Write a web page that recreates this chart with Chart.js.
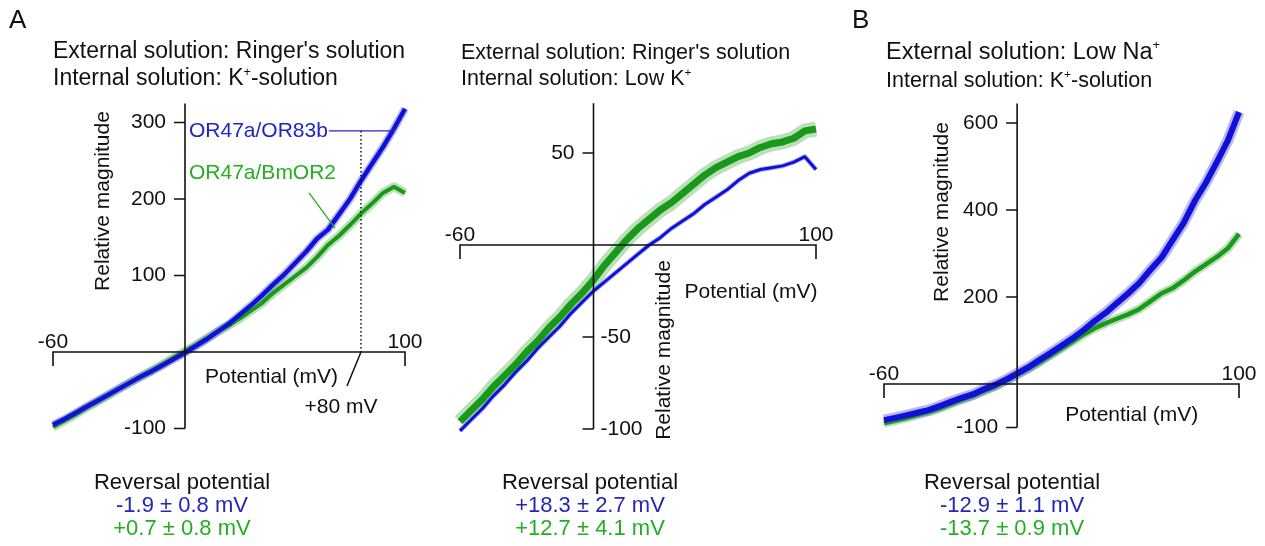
<!DOCTYPE html>
<html>
<head>
<meta charset="utf-8">
<script src="https://cdn.jsdelivr.net/npm/chart.js@4.4.1/dist/chart.umd.min.js"></script>
<style>
  body { margin: 0; width: 1265px; height: 546px; background: #fff; position: relative; overflow: hidden;
         font-family: "Liberation Sans", Arial, sans-serif; color: #111; }
  canvas { position: absolute; top: 0; }
  .t { position: absolute; white-space: nowrap; z-index: 2; }
  .c { text-align: center; transform: translateX(-50%); }
  sup { font-size: 0.55em; vertical-align: 0.75em; line-height: 0; }
  .blue { color: #2626b4; }
  .green { color: #22b022; }
</style>
</head>
<body>
<div class="t" style="left:9px;top:4px;font-size:26px;line-height:30px">A</div>
<div class="t" style="left:852px;top:4px;font-size:26px;line-height:30px">B</div>

<div class="t" style="left:53px;top:36.5px;font-size:23px;line-height:27px">External solution: Ringer's solution<br>Internal solution: K<sup>+</sup>-solution</div>
<div class="t" style="left:461px;top:38.5px;font-size:21.5px;line-height:26px">External solution: Ringer's solution<br>Internal solution: Low K<sup>+</sup></div>
<div class="t" style="left:886px;top:38px;font-size:23.5px;line-height:26px">External solution: Low Na<sup>+</sup></div>
<div class="t" style="left:886px;top:66.5px;font-size:21.5px;line-height:26px">Internal solution: K<sup>+</sup>-solution</div>

<div class="t c" style="left:182px;top:470px;font-size:22px;line-height:23px">Reversal potential<br><span class="blue">-1.9 ± 0.8 mV</span><br><span class="green">+0.7 ± 0.8 mV</span></div>
<div class="t c" style="left:590px;top:470px;font-size:22px;line-height:23px">Reversal potential<br><span class="blue">+18.3 ± 2.7 mV</span><br><span class="green">+12.7 ± 4.1 mV</span></div>
<div class="t c" style="left:1012px;top:470px;font-size:22px;line-height:23px">Reversal potential<br><span class="blue">-12.9 ± 1.1 mV</span><br><span class="green">-13.7 ± 0.9 mV</span></div>

<canvas id="chartA1" width="440" height="546" style="left:0px"></canvas>
<canvas id="chartA2" width="420" height="546" style="left:440px"></canvas>
<canvas id="chartB" width="405" height="546" style="left:860px"></canvas>

<script>
// membrane potential (mV), shared by every trace
const potential = [-60, -55, -50, -45, -40, -35, -30, -25, -20, -15, -10, -5, 0, 5, 10, 15, 20,
                   25, 30, 35, 40, 45, 50, 55, 60, 65, 70, 75, 80, 85, 90, 95, 100];

// A, Ringer's / K+-solution
const a1Orco  = [-95, -88, -80, -72, -64, -56, -48, -40, -32, -25, -17, -9, -1, 8, 17, 27, 37,
                 49, 61, 74, 88, 101, 116, 131, 148, 160, 180, 200, 224, 246, 268, 292, 318];
const a1Bmor2 = [-98, -90, -82, -73, -65, -57, -48, -40, -32, -24, -16, -7, 1, 9, 18, 27, 35,
                 44, 54, 64, 77, 88, 99, 110, 124, 140, 152, 166, 181, 194, 208, 216, 208];

// A, Ringer's / Low K+
const a2Orco  = [-101, -95, -89, -82, -76, -69, -63, -56, -50, -44, -37, -31, -25, -20, -15, -10, -5,
                 0, 4, 9, 13, 17, 22, 26, 30, 35, 39, 41, 42, 43, 45, 48, 41];
const a2Bmor2 = [-96, -90, -84, -77, -71, -65, -58, -52, -45, -39, -32, -26, -19, -11, -4, 3, 9,
                 14, 19, 23, 28, 33, 38, 42, 45, 48, 50, 53, 55, 56, 58, 62, 63];

// B, Low Na+ / K+-solution
const bOrco   = [-83, -78, -72, -66, -60, -51, -41, -32, -24, -12, -2, 10, 24, 38, 55, 71, 88,
                 105, 124, 145, 164, 186, 208, 232, 262, 290, 330, 370, 420, 462, 510, 560, 625];
const bBmor2  = [-90, -84, -78, -71, -64, -56, -46, -36, -27, -16, -6, 8, 22, 36, 50, 66, 82,
                 98, 114, 128, 140, 150, 160, 172, 190, 208, 220, 238, 258, 275, 292, 312, 345];

// tick labels
const xEnds = [-60, 100];
const ticksA1 = [300, 200, 100, -100];
const ticksA2 = [50, -50, -100];
const ticksB = [600, 400, 200, -100];

const BLUE = "#1010d8";
const GREEN = "#1a981a";
const FONT = '21px "Liberation Sans", Arial, sans-serif';

const ivAxes = {
    id: "ivAxes",
    afterDatasetsDraw(chart, args, o) {
        const ctx = chart.ctx;
        const x = chart.scales.x, y = chart.scales.y;
        const ox = x.getPixelForValue(0), oy = y.getPixelForValue(0);
        const left = x.getPixelForValue(x.min), right = x.getPixelForValue(x.max);
        const top = y.getPixelForValue(y.max), bottom = y.getPixelForValue(y.min);

        ctx.save();
        ctx.strokeStyle = "#111";
        ctx.fillStyle = "#111";
        ctx.lineWidth = 1.6;
        ctx.beginPath();
        ctx.moveTo(left, oy + 14); ctx.lineTo(left, oy); ctx.lineTo(right, oy); ctx.lineTo(right, oy + 14);
        ctx.moveTo(ox, top); ctx.lineTo(ox, bottom);
        o.ticks.forEach((v) => {
            const py = y.getPixelForValue(v);
            ctx.moveTo(ox - 11, py); ctx.lineTo(ox, py);
        });
        ctx.stroke();

        ctx.font = FONT;
        ctx.textBaseline = "middle";
        o.ticks.forEach((v) => {
            const py = y.getPixelForValue(v);
            const onRight = o.rightBelowZero && v < 0;
            ctx.textAlign = onRight ? "left" : "right";
            ctx.fillText(String(v), onRight ? ox + 7 : ox - 19, py);
        });

        ctx.textAlign = "center";
        ctx.textBaseline = "alphabetic";
        xEnds.forEach((v) => ctx.fillText(String(v), x.getPixelForValue(v), oy - 4));

        ctx.textAlign = "left";
        ctx.textBaseline = "middle";
        ctx.fillText("Potential (mV)", ox + o.xTitle[0], oy + o.xTitle[1]);

        ctx.save();
        ctx.translate(ox + o.yTitle[0], oy + o.yTitle[1]);
        ctx.rotate(-Math.PI / 2);
        ctx.textAlign = "center";
        ctx.fillText("Relative magnitude", 0, 0);
        ctx.restore();

        if (o.extra) o.extra(ctx, x, y, ox, oy);
        ctx.restore();
    },
};

// dotted +80 mV marker and the two trace labels of panel A1
function drawA1Notes(ctx, x, y, ox, oy) {
    const mx = x.getPixelForValue(80);
    const ly = y.getPixelForValue(289);
    ctx.lineWidth = 1.5;
    ctx.setLineDash([1.5, 2.5]);
    ctx.beginPath();
    ctx.moveTo(mx, ly); ctx.lineTo(mx, oy);
    ctx.stroke();
    ctx.setLineDash([]);
    ctx.beginPath();
    ctx.moveTo(mx, oy); ctx.lineTo(mx - 14, oy + 34);
    ctx.stroke();
    ctx.textAlign = "center";
    ctx.fillText("+80 mV", mx - 20, oy + 55);

    ctx.textAlign = "left";
    ctx.fillStyle = "#2323c8";
    ctx.fillText("OR47a/OR83b", ox + 4, ly);
    const w = ctx.measureText("OR47a/OR83b").width;
    ctx.strokeStyle = "#2323c8";
    ctx.lineWidth = 1.3;
    ctx.beginPath();
    ctx.moveTo(ox + 5 + w, ly); ctx.lineTo(x.getPixelForValue(95), ly);
    ctx.stroke();

    ctx.fillStyle = "#22b022";
    ctx.fillText("OR47a/BmOR2", ox + 4, y.getPixelForValue(234));
    ctx.strokeStyle = "#22b022";
    ctx.beginPath();
    ctx.moveTo(x.getPixelForValue(56.4), y.getPixelForValue(208));
    ctx.lineTo(x.getPixelForValue(68.2), y.getPixelForValue(162));
    ctx.stroke();
}

function trace(values, color, width, alpha, order) {
    return {
        data: potential.map((v, i) => ({ x: v, y: values[i] })),
        borderColor: Chart.helpers.color(color).alpha(alpha).rgbString(),
        borderWidth: width,
        borderJoinStyle: "round",
        pointRadius: 0,
        tension: 0,
        clip: false,
        order: order,
    };
}

// band = [halo width, body width] for the noisy trace look
function makeChart(id, orco, bmor2, blueOnTop, blueBand, greenBand, yMin, yMax, padding, axesOpts) {
    const ob = blueOnTop ? 0 : 1;
    const og = blueOnTop ? 1 : 0;
    new Chart(document.getElementById(id), {
        type: "line",
        data: {
            datasets: [
                trace(orco, BLUE, blueBand[0], 0.3, ob + 2),
                trace(bmor2, GREEN, greenBand[0], 0.3, og + 2),
                trace(orco, BLUE, blueBand[1], 1, ob),
                trace(bmor2, GREEN, greenBand[1], 1, og),
            ],
        },
        options: {
            responsive: false,
            animation: false,
            layout: { padding: padding },
            scales: {
                x: { type: "linear", min: -60, max: 100, display: false },
                y: { type: "linear", min: yMin, max: yMax, display: false },
            },
            plugins: {
                legend: { display: false },
                tooltip: { enabled: false },
                ivAxes: axesOpts,
            },
        },
        plugins: [ivAxes],
    });
}

makeChart("chartA1", a1Orco, a1Bmor2, true, [8, 4.5], [9, 4], -100, 325,
    { left: 53, right: 35, top: 103.4, bottom: 117.5 },
    { ticks: ticksA1, xTitle: [20, 25], yTitle: [-82, -151], extra: drawA1Notes });

makeChart("chartA2", a2Orco, a2Bmor2, false, [5, 3], [15, 7], -100, 77,
    { left: 20, right: 44, top: 103.3, bottom: 117 },
    { ticks: ticksA2, rightBelowZero: true, xTitle: [91, 47], yTitle: [71, 105] });

makeChart("chartB", bOrco, bBmor2, true, [11, 6], [9, 4.5], -100, 645,
    { left: 24, right: 26, top: 103.4, bottom: 118.5 },
    { ticks: ticksB, xTitle: [48, 31], yTitle: [-75, -172] });
</script>
</body>
</html>
